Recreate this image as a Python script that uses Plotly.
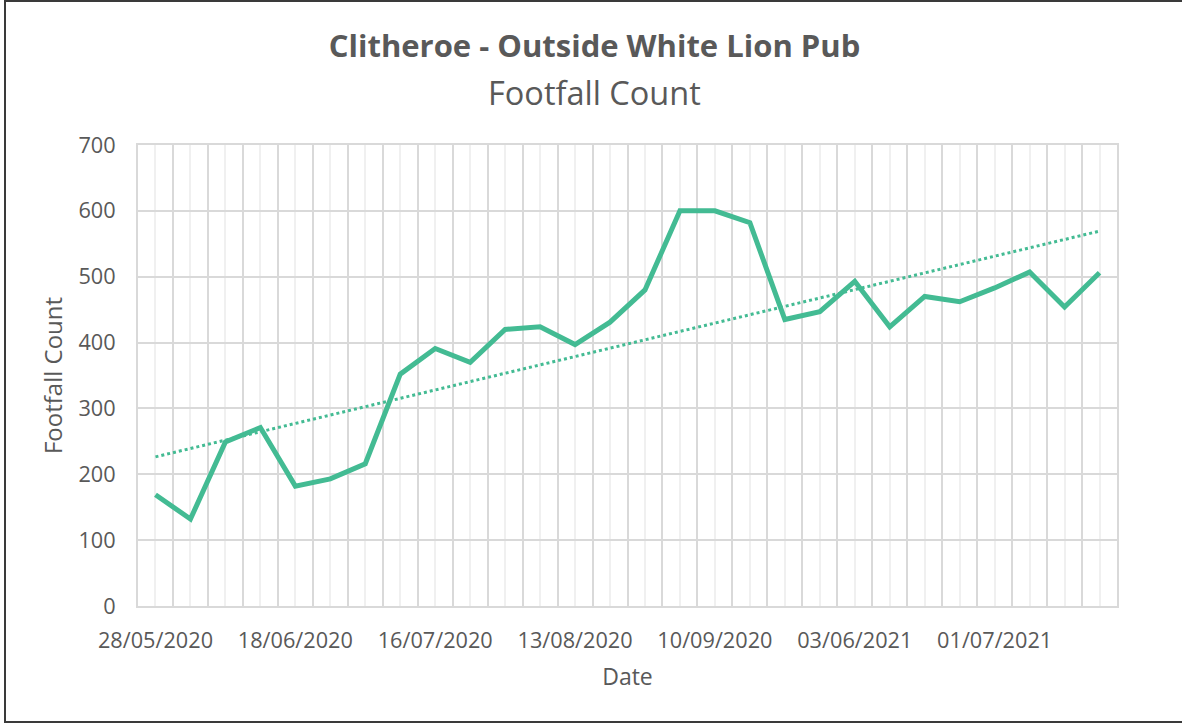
import numpy as np
import plotly.graph_objects as go

dates = ["28/05/2020", "01/06/2020", "04/06/2020", "11/06/2020", "18/06/2020", "25/06/2020",
         "02/07/2020", "09/07/2020", "16/07/2020", "23/07/2020", "30/07/2020", "06/08/2020",
         "13/08/2020", "20/08/2020", "27/08/2020", "03/09/2020", "10/09/2020", "17/09/2020",
         "24/09/2020", "01/10/2020", "03/06/2021", "10/06/2021", "17/06/2021", "24/06/2021",
         "01/07/2021", "08/07/2021", "15/07/2021", "22/07/2021"]
footfall = [169, 132, 249, 271, 182, 193, 216, 352, 391, 370, 420, 424, 397, 431, 480, 600,
            600, 582, 435, 447, 493, 424, 470, 462, 483, 507, 454, 506]
label_every = 4

idx = np.arange(len(dates))
slope, intercept = np.polyfit(idx, footfall, 1)
trend = slope * idx + intercept
ticktext = [d if i % label_every == 0 else "" for i, d in enumerate(dates)]

GREEN = "#43BB93"
TXT = "#595959"
GRID = "#D9D9D9"
FONT = "Open Sans"

# plot area in pixels
L, R, T, B = 138, 1117, 145, 606
PW, PH = R - L, B - T


def px(x):
    return (x - L) / PW


def py(y):
    return (B - y) / PH


fig = go.Figure()
fig.add_trace(go.Scatter(x=idx, y=footfall, mode="lines", line=dict(color=GREEN, width=5),
                         name="Footfall Count", showlegend=False))
fig.add_trace(go.Scatter(x=idx, y=trend, mode="lines", line=dict(color=GREEN, width=3, dash="dot"),
                         name="Linear (Footfall Count)", showlegend=False))

fig.update_layout(
    width=1182, height=725,
    margin=dict(l=L, r=1182 - R, t=T, b=725 - B),
    paper_bgcolor="white", plot_bgcolor="white",
    font=dict(family=FONT, color=TXT),
    title=dict(text="<b>Clitheroe - Outside White Lion Pub</b>", x=0.503, xanchor="center",
               y=1 - 46 / 725, yanchor="middle", yref="container",
               font=dict(size=31, color=TXT, family=FONT)),
    annotations=[dict(text="Footfall Count", x=px(594), xref="paper", xanchor="center",
                      y=py(92), yref="paper", yanchor="middle",
                      showarrow=False, font=dict(size=32.5, color=TXT, family=FONT))],
    xaxis=dict(
        range=[-0.5, len(dates) - 0.5], tickmode="array", tickvals=idx, ticktext=ticktext,
        showgrid=True, gridcolor="#F0F0F0", gridwidth=2,
        minor=dict(tick0=-0.5, dtick=1, showgrid=True, gridcolor=GRID, gridwidth=2),
        ticks="outside", ticklen=14, tickcolor="rgba(0,0,0,0)",
        tickfont=dict(size=21.7, color=TXT), zeroline=False,
        title=dict(text="Date", font=dict(size=23, color=TXT), standoff=16),
        showline=True, mirror=True, linecolor=GRID, linewidth=2,
    ),
    yaxis=dict(
        range=[0, 700], dtick=100, tick0=0, showgrid=True, gridcolor=GRID, gridwidth=2,
        ticks="outside", ticklen=16, tickcolor="rgba(0,0,0,0)",
        tickfont=dict(size=21.7, color=TXT), zeroline=False,
        title=dict(text="Footfall Count", font=dict(size=24, color=TXT), standoff=9),
        showline=True, mirror=True, linecolor=GRID, linewidth=2,
    ),
    shapes=[dict(type="path", xref="paper", yref="paper",
                 path=f"M {px(1300)},{py(1)} L {px(5)},{py(1)} L {px(5)},{py(722)} L {px(1300)},{py(722)}",
                 line=dict(color="#3A3A3A", width=2), layer="below")],
)

fig.write_html("out.html")
